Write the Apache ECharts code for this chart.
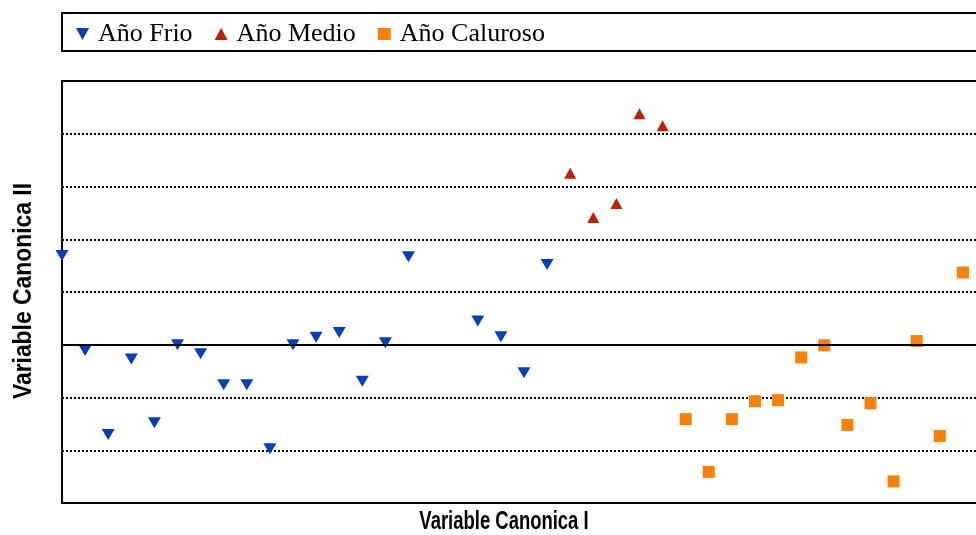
<!DOCTYPE html>
<html>
<head>
<meta charset="utf-8">
<script src="https://cdn.jsdelivr.net/npm/echarts@6/dist/echarts.min.js"></script>
<style>
html,body{margin:0;padding:0;background:#fff;}
#chart{width:976px;height:535px;}
</style>
</head>
<body>
<div id="chart"></div>
<script>
// Data
var seriesNames = ['Año Frio', 'Año Medio', 'Año Caluroso'];
var frioX = [0, 1, 2, 3, 4, 5, 6, 7, 8, 9, 10, 11, 12, 13, 14, 15, 18, 19, 20, 21];
var frioY = [1.69, -0.11, -1.70, -0.27, -1.48, 0.00, -0.17, -0.76, -0.76, -1.97, 0.00, 0.14, 0.23, -0.69, 0.04, 1.67, 0.45, 0.15, -0.53, 1.52];
var medioX = [22, 23, 24, 25, 26];
var medioY = [3.25, 2.41, 2.68, 4.38, 4.15];
var calurosoX = [27, 28, 29, 30, 31, 32, 33, 34, 35, 36, 37, 38, 39];
var calurosoY = [-1.41, -2.41, -1.41, -1.07, -1.05, -0.24, -0.01, -1.52, -1.11, -2.59, 0.07, -1.73, 1.37];
var xTitle = 'Variable Canonica I';
var yTitle = 'Variable Canonica II';

function pairs(xs, ys) { return xs.map(function (x, i) { return [x, ys[i]]; }); }

var downTri = 'path://M0,0 L12,0 L6,11 Z';
var upTri = 'path://M6,0 L12,11 L0,11 Z';

var chart = echarts.init(document.getElementById('chart'), null, {renderer: 'canvas'});
var option = {
  animation: false,
  backgroundColor: '#fff',
  legend: {
    left: 71,
    top: 16,
    itemWidth: 13,
    itemHeight: 12,
    itemGap: 22,
    textStyle: {fontFamily: 'Liberation Serif', fontSize: 26, color: '#000', padding: [0, 0, 0, 4]},
    data: [
      {name: seriesNames[0], icon: downTri},
      {name: seriesNames[1], icon: upTri},
      {name: seriesNames[2], icon: 'rect'}
    ]
  },
  grid: {
    left: 62, top: 81, width: 924, height: 422,
    outerBoundsMode: 'none', containLabel: false,
    show: true, borderColor: '#000', borderWidth: 2, backgroundColor: 'transparent'
  },
  xAxis: {
    type: 'value', min: 0, max: 40,
    axisLine: {show: false}, axisTick: {show: false}, axisLabel: {show: false}, splitLine: {show: false}
  },
  yAxis: {
    type: 'value', min: -3, max: 5, interval: 1,
    axisLine: {show: false}, axisTick: {show: false}, axisLabel: {show: false},
    splitLine: {show: true, lineStyle: {color: '#000', width: 2, type: [2, 2]}}
  },
  graphic: [
    {type: 'rect', shape: {x: 62, y: 13, width: 940, height: 38},
     style: {fill: 'none', stroke: '#000', lineWidth: 2}},
    {type: 'text', x: 504, y: 522, scaleX: 0.71,
     style: {text: xTitle, font: 'bold 26px "Liberation Sans"', fill: '#000',
             align: 'center', verticalAlign: 'middle', textAlign: 'center', textVerticalAlign: 'middle'}},
    {type: 'text', x: 24, y: 291, rotation: Math.PI / 2, scaleX: 0.88,
     style: {text: yTitle, font: 'bold 26px "Liberation Sans"', fill: '#000',
             align: 'center', verticalAlign: 'middle', textAlign: 'center', textVerticalAlign: 'middle'}}
  ],
  series: [
    {
      name: seriesNames[0], type: 'scatter', symbol: 'triangle', symbolRotate: 180, symbolSize: [13, 11],
      itemStyle: {color: '#0040c0', opacity: 1},
      data: pairs(frioX, frioY),
      markLine: {
        silent: true, symbol: 'none', label: {show: false},
        lineStyle: {color: '#000', width: 2, type: 'solid', opacity: 1},
        data: [{yAxis: 0}]
      }
    },
    {
      name: seriesNames[1], type: 'scatter', symbol: 'triangle', symbolSize: [12, 11],
      itemStyle: {color: '#c02000', opacity: 1},
      data: pairs(medioX, medioY)
    },
    {
      name: seriesNames[2], type: 'scatter', symbol: 'rect', symbolSize: 12,
      itemStyle: {color: '#ff8000', opacity: 1},
      data: pairs(calurosoX, calurosoY)
    }
  ]
};
chart.setOption(option);
</script>
</body>
</html>
